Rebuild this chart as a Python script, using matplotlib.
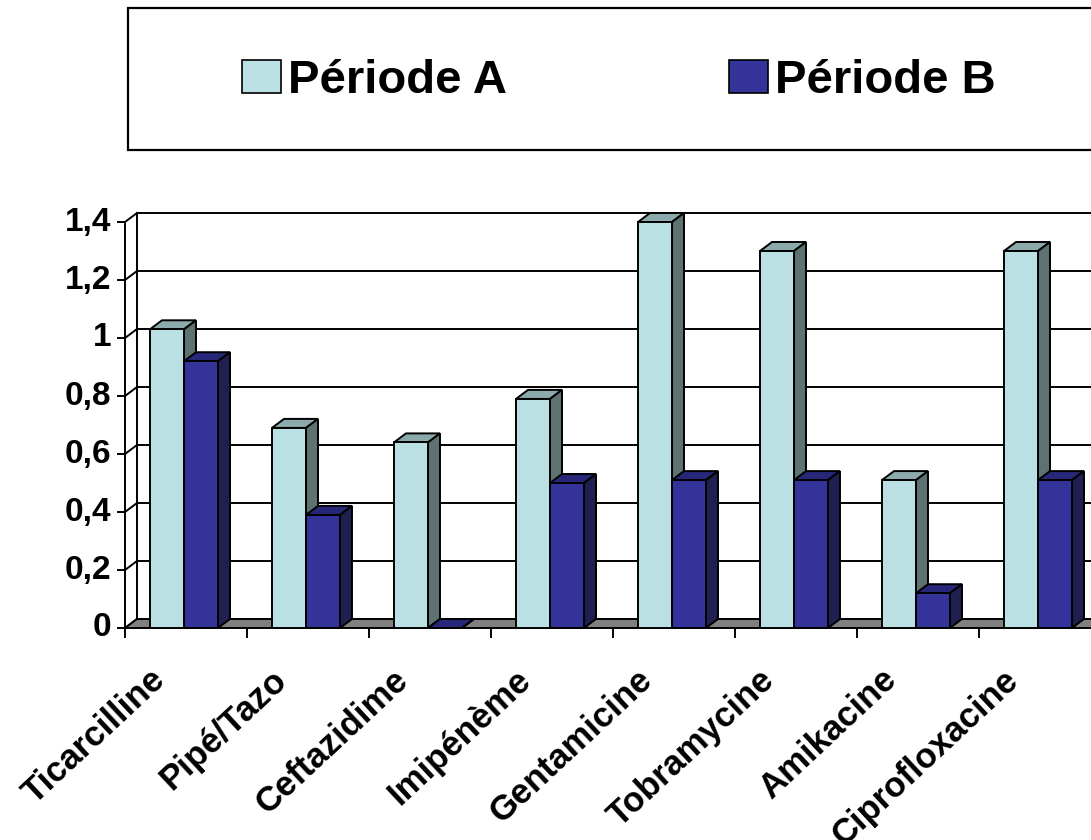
import numpy as np
import matplotlib.pyplot as plt
from matplotlib.patches import Polygon, Rectangle, Patch

plt.rcParams['font.family'] = ['Liberation Sans', 'DejaVu Sans']
plt.rcParams['font.weight'] = 'bold'

categories = ['Ticarcilline', 'Pipé/Tazo', 'Ceftazidime', 'Imipénème',
              'Gentamicine', 'Tobramycine', 'Amikacine', 'Ciprofloxacine']
periode_a = [1.03, 0.69, 0.64, 0.79, 1.40, 1.30, 0.51, 1.30]
periode_b = [0.92, 0.39, 0.00, 0.50, 0.51, 0.51, 0.12, 0.51]
series_names = ['Période A', 'Période B']
yticks = [0, 0.2, 0.4, 0.6, 0.8, 1.0, 1.2, 1.4]
ytick_labels = ['0', '0,2', '0,4', '0,6', '0,8', '1', '1,2', '1,4']

# front / top / side shades of each series
colours = {
    'Période A': ('#BBE0E3', '#8CAAAC', '#5E7272'),
    'Période B': ('#333399', '#27277A', '#1F1F50'),
}

# pixel scale of the plot: one category = 122 px, one unit = 290 px
PX_CAT = 122.0
PX_VAL = 290.0
DX = 12 / PX_CAT          # depth offset of the 3d effect
DY = 9 / PX_VAL
BAR_OFF = 25 / PX_CAT
BAR_W = 34 / PX_CAT
LW = 1.4

fig = plt.figure(figsize=(10.91, 8.4), dpi=100)
ax = fig.add_axes([0, 0, 1, 1])
ax.set_xlim(-125 / PX_CAT, (1091 - 125) / PX_CAT)
ax.set_ylim(-(840 - 628) / PX_VAL, 628 / PX_VAL)
ax.axis('off')

n = len(categories)
x_end = n + 1  # the plot runs past the right edge
ytop = yticks[-1]

# back wall gridlines and left wall
for y, lab in zip(yticks, ytick_labels):
    ax.plot([DX, x_end], [y + DY, y + DY], color='black', lw=LW, zorder=1)
    ax.plot([0, DX], [y, y + DY], color='black', lw=LW, zorder=1)
    ax.plot([-7 / PX_CAT, 0], [y, y], color='black', lw=LW, zorder=1)
    ax.text(-14 / PX_CAT, y, lab, ha='right', va='center',
            fontsize=24, fontweight='bold')
ax.plot([DX, DX], [DY, ytop + DY], color='black', lw=LW, zorder=1)
ax.plot([0, 0], [0, ytop], color='black', lw=LW, zorder=1)

# floor
floor = Polygon([(0, 0), (x_end, 0), (x_end + DX, DY), (DX, DY)], closed=True,
                facecolor='#808080', edgecolor='black', lw=LW, zorder=1)
ax.add_patch(floor)
for i in range(n + 1):
    ax.plot([i, i], [0, -9 / PX_VAL], color='black', lw=LW, zorder=1)

x = np.arange(n)
for k, (name, vals) in enumerate(zip(series_names, [periode_a, periode_b])):
    front, top, side = colours[name]
    xs = x + BAR_OFF + k * BAR_W
    ax.bar(xs, vals, width=BAR_W, align='edge', color=front, edgecolor='black',
           linewidth=LW, zorder=3)
    for x0, h in zip(xs, vals):
        x1 = x0 + BAR_W
        ax.add_patch(Polygon([(x0, h), (x1, h), (x1 + DX, h + DY), (x0 + DX, h + DY)],
                             closed=True, facecolor=top, edgecolor='black', lw=LW, zorder=2))
        ax.add_patch(Polygon([(x1, 0), (x1 + DX, DY), (x1 + DX, h + DY), (x1, h)],
                             closed=True, facecolor=side, edgecolor='black', lw=LW, zorder=2))

# rotated category labels
for i, cat in enumerate(categories):
    ax.text(i + 0.5 - 26 / PX_CAT, -47 / PX_VAL, cat, rotation=43, rotation_mode='anchor',
            ha='right', va='center', fontsize=25, fontweight='bold')

# legend box along the top
fig.patches.append(Rectangle((128 / 1091, 1 - 150 / 840), 1.0, 142 / 840,
                             transform=fig.transFigure, facecolor='white',
                             edgecolor='black', lw=1.6, clip_on=False, zorder=-1))
handles = [Patch(facecolor=colours[s][0], edgecolor='black', lw=1.2, label=s)
           for s in series_names]
leg = fig.legend(handles=handles, loc='center', bbox_to_anchor=(619 / 1091, 1 - 81 / 840),
                 ncol=2, frameon=False,
                 prop={'weight': 'bold', 'size': 34}, handlelength=0.83, handleheight=0.68,
                 handletextpad=0.15, columnspacing=4.7)
leg.set_zorder(5)

fig.savefig('out.png', dpi=100)
